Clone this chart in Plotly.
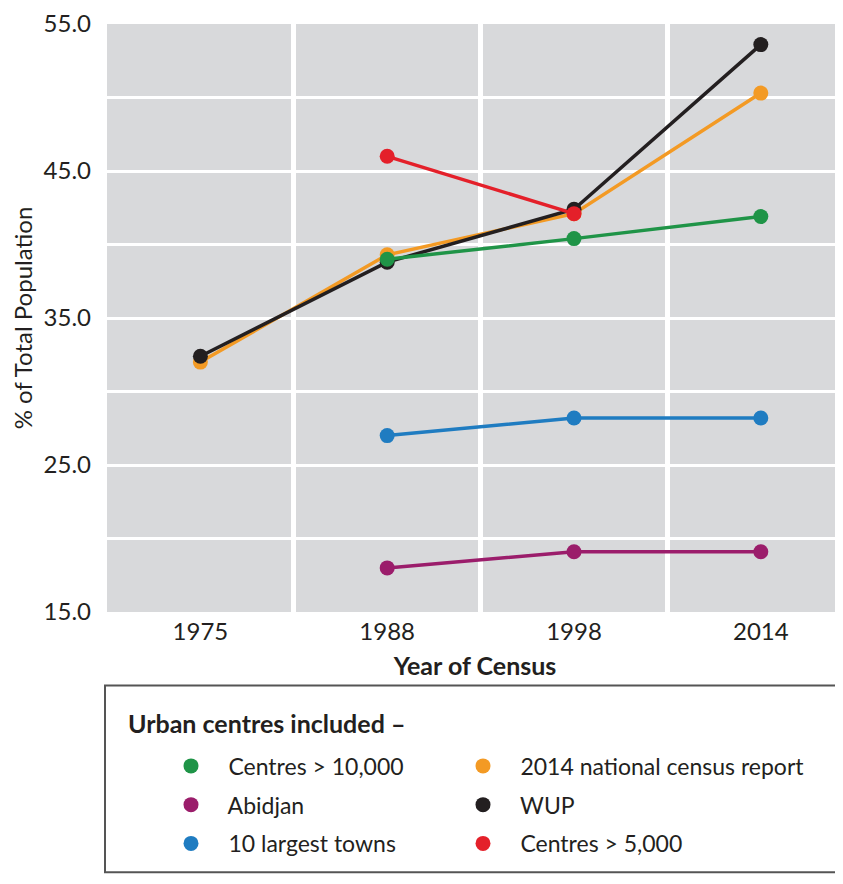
import plotly.graph_objects as go

years = ["1975", "1988", "1998", "2014"]
x_idx = [0, 1, 2, 3]

census_2014 = [32.0, 39.3, 42.1, 50.3]
wup = [32.4, 38.8, 42.4, 53.6]
centres_10k = [None, 39.0, 40.4, 41.9]
largest_10 = [None, 27.0, 28.2, 28.2]
abidjan = [None, 18.0, 19.1, 19.1]
centres_5k = [None, 46.0, 42.1, None]

series = [
    ("2014 national census report", census_2014, "#f39a24"),
    ("WUP", wup, "#231f20"),
    ("Centres > 10,000", centres_10k, "#1f9447"),
    ("10 largest towns", largest_10, "#1f7cc1"),
    ("Abidjan", abidjan, "#9b1d6b"),
    ("Centres > 5,000", centres_5k, "#e4202a"),
]
colors = {n: c for n, _, c in series}

legend_cols = [
    ["Centres > 10,000", "Abidjan", "10 largest towns"],
    ["2014 national census report", "WUP", "Centres > 5,000"],
]

FONT = "Lato"
TXT = "#231f20"
FS = 23

# page body has an 8px margin; size the figure so the page is exactly 843x884
OFF = 8
W, H = 843 - OFF, 884 - 2 * OFF
PLOT_L, PLOT_T, PLOT_B = 107, 20, 612  # window pixels
L = PLOT_L - OFF
T = PLOT_T - OFF
B = H - (PLOT_B - OFF)
R = 0
pw = W - L - R
ph = H - T - B


def px_x(p):
    return (p - PLOT_L) / pw


def px_y(p):
    return (PLOT_B - p) / ph


fig = go.Figure()
for name, vals, col in series:
    fig.add_trace(go.Scatter(
        x=x_idx, y=vals, mode="lines+markers", name=name,
        line=dict(color=col, width=3.5),
        marker=dict(color=col, size=15),
        showlegend=False, hoverinfo="skip",
    ))

row_y = [767, 806, 845]
col_x = [171, 463]
k = 0
for c, names in enumerate(legend_cols):
    for r, nm in enumerate(names):
        lname = "legend" if k == 0 else f"legend{k + 1}"
        fig.add_trace(go.Scatter(
            x=[None], y=[None], mode="markers", name="\u2002\u00a0" + nm,
            marker=dict(color=colors[nm], size=15),
            legend=lname, showlegend=True,
        ))
        fig.update_layout(**{lname: dict(
            orientation="v", x=px_x(col_x[c]), xanchor="left",
            y=px_y(row_y[r]), yanchor="middle",
            font=dict(family=FONT, size=FS, color=TXT),
            bgcolor="rgba(0,0,0,0)", borderwidth=0,
        )})
        k += 1

fig.add_shape(type="rect", xref="paper", yref="paper",
              x0=px_x(105), x1=px_x(840), y0=px_y(874), y1=px_y(686),
              line=dict(color="#555555", width=2), fillcolor="rgba(0,0,0,0)")

fig.add_annotation(text="<b>Urban centres included \u2013</b>", xref="paper", yref="paper",
                   x=px_x(126), y=px_y(724), xanchor="left", yanchor="middle",
                   showarrow=False, font=dict(family=FONT, size=25, color=TXT))

fig.update_layout(
    width=W, height=H,
    margin=dict(l=L, r=R, t=T, b=B, pad=0),
    paper_bgcolor="white", plot_bgcolor="#d8d9db",
    font=dict(family=FONT, size=FS, color=TXT),
    xaxis=dict(
        range=[-0.5, 3.44], tickmode="array", tickvals=x_idx, ticktext=years,
        showgrid=False, zeroline=False, showline=False, ticks="",
        ticklabelstandoff=3,
        tickfont=dict(family=FONT, size=24, color=TXT),
        minor=dict(tickmode="array", tickvals=[0.5, 1.5, 2.5], showgrid=True,
                   gridcolor="white", gridwidth=4.5, ticks=""),
        title=dict(text="<b>Year of Census</b>", font=dict(family=FONT, size=25, color=TXT), standoff=13),
    ),
    yaxis=dict(
        range=[15, 55], tickmode="array", tickvals=[15, 25, 35, 45, 55], tickformat=".1f",
        showgrid=True, gridcolor="white", gridwidth=3, zeroline=False, showline=False, ticks="",
        ticklabelstandoff=15, ticklabeloverflow="allow",
        tickfont=dict(family=FONT, size=24, color=TXT),
        minor=dict(tickmode="array", tickvals=[20, 30, 40, 50], showgrid=True,
                   gridcolor="white", gridwidth=3, ticks=""),
        title=dict(text="% of Total Population", font=dict(family=FONT, size=24, color=TXT), standoff=11),
    ),
)

fig.write_html("out.html")
